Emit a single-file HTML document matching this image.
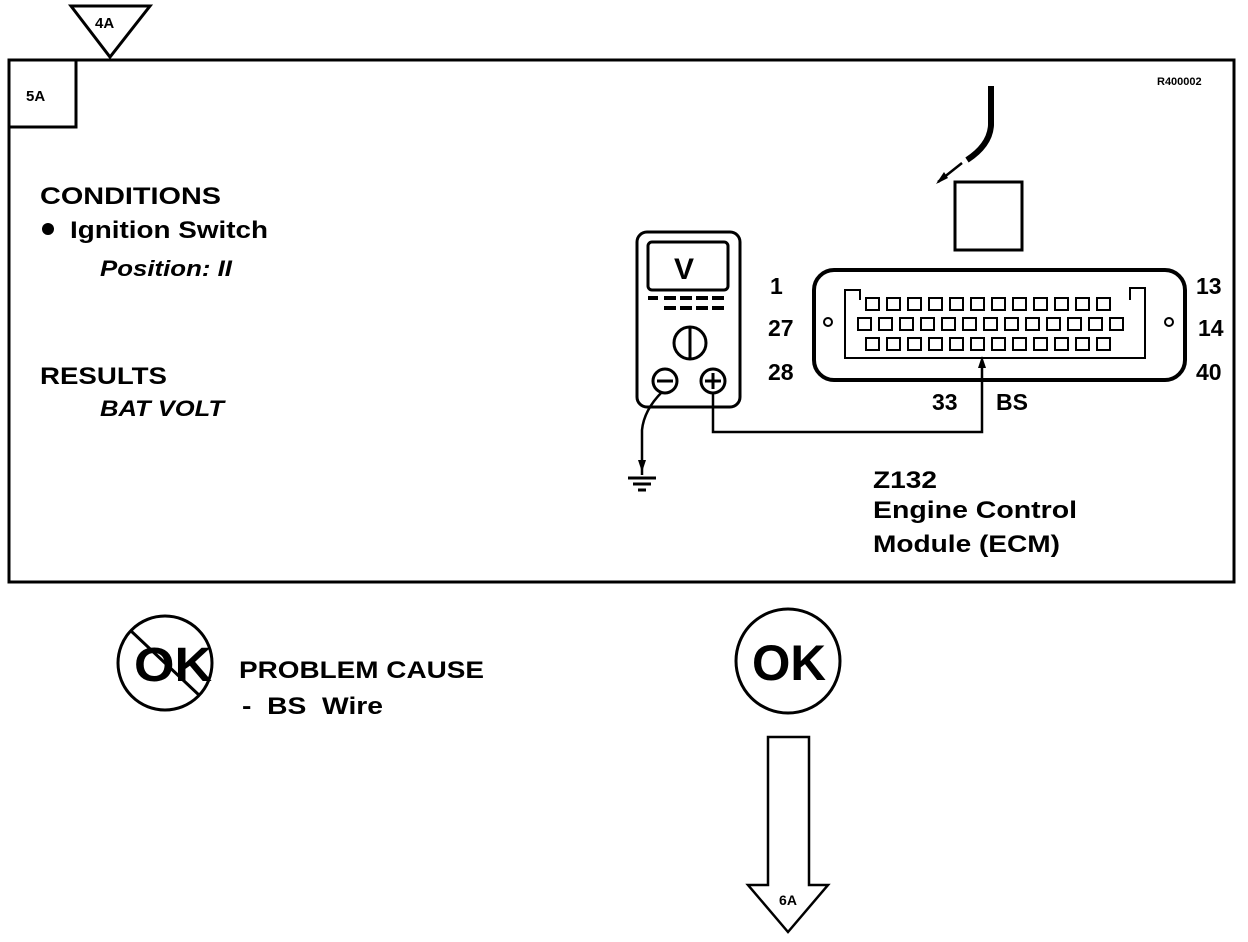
<!DOCTYPE html>
<html><head><style>html,body{margin:0;padding:0;background:#fff}svg{display:block}text{font-family:"Liberation Sans",Arial,sans-serif;font-weight:bold;fill:#000}</style></head>
<body>
<svg width="1248" height="942" viewBox="0 0 1248 942" xmlns="http://www.w3.org/2000/svg">
<g fill="none" stroke="#000" stroke-width="3">
<rect x="9" y="60" width="1225" height="522"/>
<rect x="9" y="60" width="67" height="67"/>
<polygon points="71,6 150,6 110,57" fill="#fff"/>
<rect x="637" y="232" width="103" height="175" rx="10"/>
<rect x="648" y="242" width="80" height="48" rx="4"/>
<circle cx="690" cy="343" r="16"/>
<line x1="690" y1="328" x2="690" y2="358"/>
<circle cx="665" cy="381" r="12"/>
<circle cx="713" cy="381" r="12"/>
<line x1="657" y1="381" x2="673" y2="381"/>
<line x1="705" y1="381" x2="721" y2="381"/>
<line x1="713" y1="373" x2="713" y2="389"/>
<polyline points="713,393 713,432 982,432 982,362" stroke-width="2.5"/>
<path d="M662,392 Q644,410 642,430 L642,475" stroke-width="2.5"/>
<line x1="628" y1="478" x2="656" y2="478"/>
<line x1="633" y1="484" x2="651" y2="484"/>
<line x1="638" y1="490" x2="646" y2="490"/>
<rect x="955" y="182" width="67" height="68"/>
<path d="M991,86 L991,125 Q990,145 967,160" stroke-width="6"/>
<line x1="938" y1="182" x2="962" y2="163" stroke-width="2.5"/>
<rect x="814" y="270" width="371" height="110" rx="20" stroke-width="4"/>
<path d="M860,300 L860,290 L845,290 L845,358 L1145,358 L1145,288 L1130,288 L1130,300" stroke-width="2"/>
<circle cx="828" cy="322" r="4" stroke-width="2"/>
<circle cx="1169" cy="322" r="4" stroke-width="2"/>
</g>
<g fill="none" stroke="#000" stroke-width="2">
<g id="r1">
<rect x="866" y="298" width="13" height="12"/><rect x="887" y="298" width="13" height="12"/><rect x="908" y="298" width="13" height="12"/><rect x="929" y="298" width="13" height="12"/><rect x="950" y="298" width="13" height="12"/><rect x="971" y="298" width="13" height="12"/><rect x="992" y="298" width="13" height="12"/><rect x="1013" y="298" width="13" height="12"/><rect x="1034" y="298" width="13" height="12"/><rect x="1055" y="298" width="13" height="12"/><rect x="1076" y="298" width="13" height="12"/><rect x="1097" y="298" width="13" height="12"/>
</g>
<use href="#r1" y="40"/>
<rect x="858" y="318" width="13" height="12"/><rect x="879" y="318" width="13" height="12"/><rect x="900" y="318" width="13" height="12"/><rect x="921" y="318" width="13" height="12"/><rect x="942" y="318" width="13" height="12"/><rect x="963" y="318" width="13" height="12"/><rect x="984" y="318" width="13" height="12"/><rect x="1005" y="318" width="13" height="12"/><rect x="1026" y="318" width="13" height="12"/><rect x="1047" y="318" width="13" height="12"/><rect x="1068" y="318" width="13" height="12"/><rect x="1089" y="318" width="13" height="12"/><rect x="1110" y="318" width="13" height="12"/>
</g>
<g fill="#000">
<rect x="648" y="296" width="10" height="4"/><rect x="664" y="296" width="12" height="4"/><rect x="680" y="296" width="12" height="4"/><rect x="696" y="296" width="12" height="4"/><rect x="712" y="296" width="12" height="4"/>
<rect x="664" y="306" width="12" height="4"/><rect x="680" y="306" width="12" height="4"/><rect x="696" y="306" width="12" height="4"/><rect x="712" y="306" width="12" height="4"/>
<polygon points="978,368 982,356 986,368"/>
<polygon points="936,184 944,172 948,178"/>
<polygon points="638,460 642,472 646,460"/>
</g>
<text x="684" y="279" font-size="30" text-anchor="middle">V</text>
<text x="95" y="28" font-size="15">4A</text>
<text x="26" y="101" font-size="15">5A</text>
<text x="1157" y="85" font-size="11" font-weight="normal">R400002</text>
<text x="40" y="204" font-size="24" textLength="181" lengthAdjust="spacingAndGlyphs">CONDITIONS</text>
<circle cx="48" cy="229" r="6" fill="#000"/>
<text x="70" y="238" font-size="24" textLength="198" lengthAdjust="spacingAndGlyphs">Ignition Switch</text>
<text x="100" y="276" font-size="22" font-weight="normal" font-style="italic" textLength="132" lengthAdjust="spacingAndGlyphs">Position: II</text>
<text x="40" y="384" font-size="24" textLength="127" lengthAdjust="spacingAndGlyphs">RESULTS</text>
<text x="100" y="416" font-size="22" font-weight="normal" font-style="italic" textLength="124" lengthAdjust="spacingAndGlyphs">BAT VOLT</text>
<text x="770" y="294" font-size="23">1</text>
<text x="768" y="336" font-size="23">27</text>
<text x="768" y="380" font-size="23">28</text>
<text x="1196" y="294" font-size="23">13</text>
<text x="1198" y="336" font-size="23">14</text>
<text x="1196" y="380" font-size="23">40</text>
<text x="932" y="410" font-size="23">33</text>
<text x="996" y="410" font-size="23">BS</text>
<text x="873" y="488" font-size="24" textLength="64" lengthAdjust="spacingAndGlyphs">Z132</text>
<text x="873" y="518" font-size="24" textLength="204" lengthAdjust="spacingAndGlyphs">Engine Control</text>
<text x="873" y="552" font-size="24" textLength="187" lengthAdjust="spacingAndGlyphs">Module (ECM)</text>
<g fill="none" stroke="#000" stroke-width="3">
<circle cx="165" cy="663" r="47"/>
<line x1="130" y1="630" x2="200" y2="696"/>
<circle cx="788" cy="661" r="52"/>
<polygon points="768,737 809,737 809,885 828,885 788,932 748,885 768,885" stroke-width="2.5"/>
</g>
<text x="134" y="681" font-size="48" textLength="78" lengthAdjust="spacingAndGlyphs">OK</text>
<text x="752" y="680" font-size="50" textLength="74" lengthAdjust="spacingAndGlyphs">OK</text>
<text x="239" y="678" font-size="24" textLength="245" lengthAdjust="spacingAndGlyphs">PROBLEM CAUSE</text>
<text x="242" y="714" font-size="24" textLength="141" lengthAdjust="spacingAndGlyphs" xml:space="preserve">-  BS  Wire</text>
<text x="788" y="905" font-size="14" text-anchor="middle">6A</text>
</svg>
</body></html>
